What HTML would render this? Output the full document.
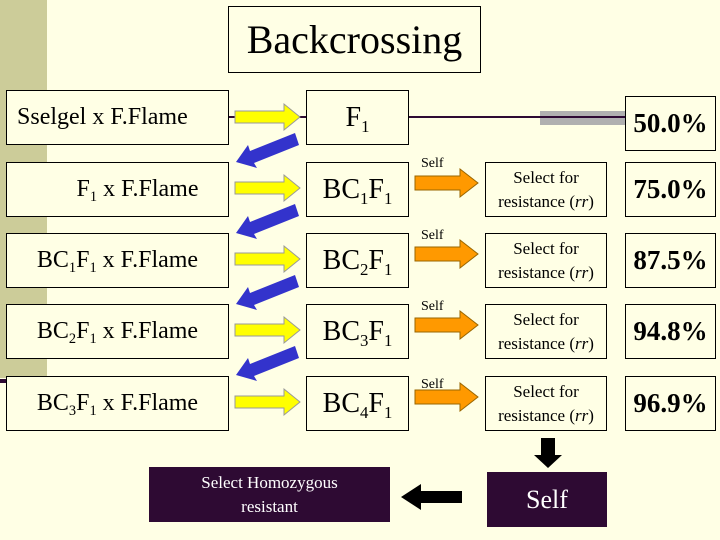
<!DOCTYPE html>
<html><head><style>
body{margin:0;width:720px;height:540px;background:#FFFFE5;position:relative;overflow:hidden;font-family:"Liberation Serif",serif;}
.b{position:absolute;border:1px solid #000;background:#FFFFE5;box-sizing:border-box;display:flex;align-items:center;justify-content:center;text-align:center;color:#000;}
.l{font-size:24px;}
.m{font-size:28px;}
.s{font-size:17px;line-height:24px;}
.p{font-size:27px;font-weight:bold;}
.d{background:#2E0A33;color:#fff;border:none;}
.self{position:absolute;font-size:14px;font-family:"Liberation Serif",serif;}
svg{position:absolute;left:0;top:0;}
sub{font-size:60%;vertical-align:-0.35em;line-height:0;}
</style></head><body>
<div style="position:absolute;left:0;top:0;width:47px;height:378px;background:#CCCC99"></div>
<div style="position:absolute;left:0;top:379px;width:8px;height:4px;background:#2E0A33"></div>
<div class="b" style="left:228px;top:6px;width:253px;height:67px;font-size:40px"><span>Backcrossing</span></div>

<div class="b l" style="left:6px;top:90px;width:223px;height:55px;justify-content:flex-start;padding-left:10px"><span>Sselgel x F.Flame</span></div>
<div class="b l" style="left:6px;top:162px;width:223px;height:55px;padding-left:40px"><span>F<sub>1</sub> x F.Flame</span></div>
<div class="b l" style="left:6px;top:233px;width:223px;height:55px"><span>BC<sub>1</sub>F<sub>1</sub> x F.Flame</span></div>
<div class="b l" style="left:6px;top:304px;width:223px;height:55px"><span>BC<sub>2</sub>F<sub>1</sub> x F.Flame</span></div>
<div class="b l" style="left:6px;top:376px;width:223px;height:55px"><span>BC<sub>3</sub>F<sub>1</sub> x F.Flame</span></div>

<div class="b m" style="left:306px;top:90px;width:103px;height:55px"><span>F<sub>1</sub></span></div>
<div class="b m" style="left:306px;top:162px;width:103px;height:55px"><span>BC<sub>1</sub>F<sub>1</sub></span></div>
<div class="b m" style="left:306px;top:233px;width:103px;height:55px"><span>BC<sub>2</sub>F<sub>1</sub></span></div>
<div class="b m" style="left:306px;top:304px;width:103px;height:55px"><span>BC<sub>3</sub>F<sub>1</sub></span></div>
<div class="b m" style="left:306px;top:376px;width:103px;height:55px"><span>BC<sub>4</sub>F<sub>1</sub></span></div>

<div class="b s" style="left:485px;top:162px;width:122px;height:55px"><span>Select for<br>resistance (<i>rr</i>)</span></div>
<div class="b s" style="left:485px;top:233px;width:122px;height:55px"><span>Select for<br>resistance (<i>rr</i>)</span></div>
<div class="b s" style="left:485px;top:304px;width:122px;height:55px"><span>Select for<br>resistance (<i>rr</i>)</span></div>
<div class="b s" style="left:485px;top:376px;width:122px;height:55px"><span>Select for<br>resistance (<i>rr</i>)</span></div>

<div class="b p" style="left:625px;top:96px;width:91px;height:55px"><span>50.0%</span></div>
<div class="b p" style="left:625px;top:162px;width:91px;height:55px"><span>75.0%</span></div>
<div class="b p" style="left:625px;top:233px;width:91px;height:55px"><span>87.5%</span></div>
<div class="b p" style="left:625px;top:304px;width:91px;height:55px"><span>94.8%</span></div>
<div class="b p" style="left:625px;top:376px;width:91px;height:55px"><span>96.9%</span></div>

<div class="self" style="left:421px;top:156px">Self</div>
<div class="self" style="left:421px;top:228px">Self</div>
<div class="self" style="left:421px;top:299px">Self</div>
<div class="self" style="left:421px;top:377px">Self</div>

<div class="b d" style="left:149px;top:467px;width:241px;height:55px;font-size:17px;line-height:24px"><span>Select Homozygous<br>resistant</span></div>
<div class="b d" style="left:487px;top:472px;width:120px;height:55px;font-size:26px"><span>Self</span></div>

<svg width="720" height="540">
<rect x="540" y="111" width="85" height="14" fill="#B0B0B0"/>
<line x1="409" y1="117" x2="625" y2="117" stroke="#2E0A33" stroke-width="2"/>
<line x1="229" y1="117" x2="306" y2="117" stroke="#2E0A33" stroke-width="2"/>
<g fill="#FFFF00" stroke="#999" stroke-width="1">
<polygon points="235,111 284,111 284,104 300,117 284,130 284,123 235,123"/>
<polygon points="235,182 284,182 284,175 300,188 284,201 284,194 235,194"/>
<polygon points="235,253 284,253 284,246 300,259 284,272 284,265 235,265"/>
<polygon points="235,324 284,324 284,317 300,330 284,343 284,336 235,336"/>
<polygon points="235,396 284,396 284,389 300,402 284,415 284,408 235,408"/>
</g>
<g fill="#FF9900" stroke="#996600" stroke-width="1">
<polygon points="415,176 460,176 460,169 478,183 460,197 460,190 415,190"/>
<polygon points="415,247 460,247 460,240 478,254 460,268 460,261 415,261"/>
<polygon points="415,318 460,318 460,311 478,325 460,339 460,332 415,332"/>
<polygon points="415,390 460,390 460,383 478,397 460,411 460,404 415,404"/>
</g>
<g fill="#3333CC">
<polygon id="ba" points="295,133 299,145 254,163 257,168 236,162 248,145 250,151"/>
<use href="#ba" y="71"/>
<use href="#ba" y="142"/>
<use href="#ba" y="213"/>
</g>
<polygon points="541,438 555,438 555,455 562,455 548,468 534,455 541,455" fill="#000"/>
<polygon points="462,491 421,491 421,484 401,497 421,510 421,503 462,503" fill="#000"/>
</svg>
</body></html>
